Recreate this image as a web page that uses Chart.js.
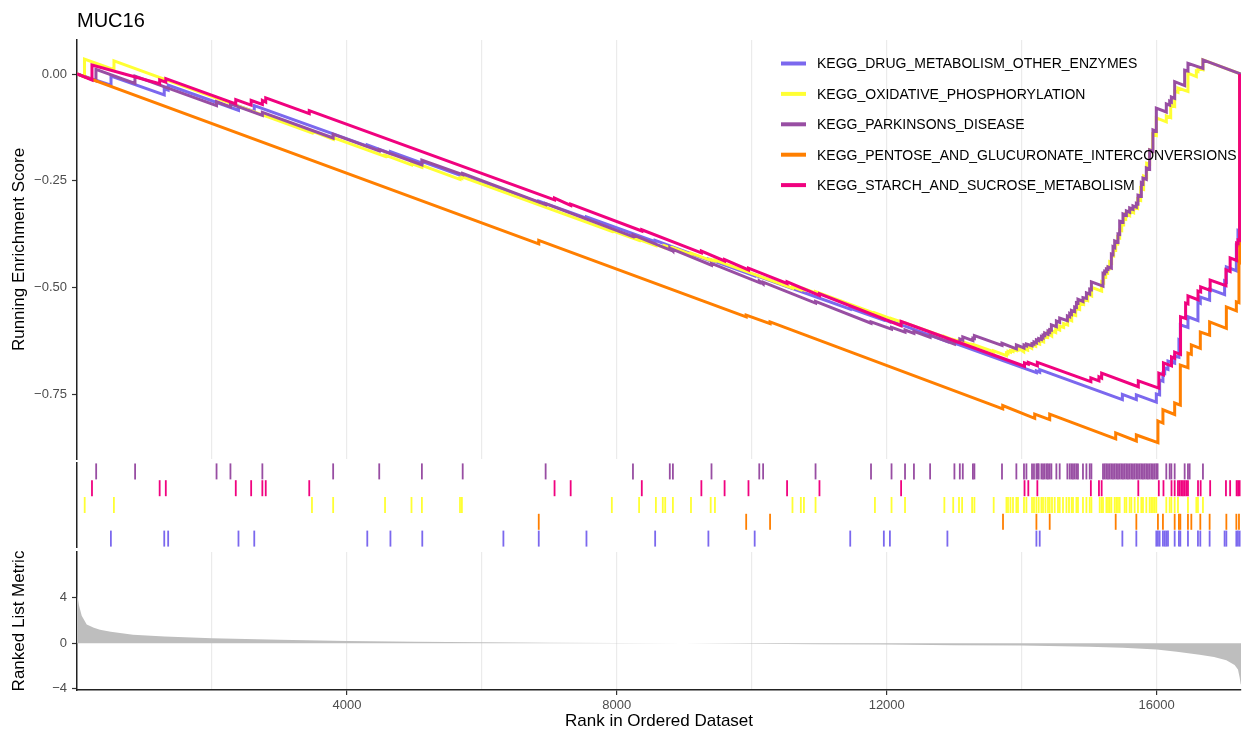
<!DOCTYPE html>
<html><head><meta charset="utf-8">
<script src="https://cdn.jsdelivr.net/npm/chart.js@4.4.1/dist/chart.umd.min.js"></script>
<style>
html,body{margin:0;padding:0;background:#fff;}
#wrap{position:relative;width:1243px;height:733px;overflow:hidden;background:#fff;}
canvas{position:absolute;left:0;}
</style></head><body>
<div id="wrap">
<canvas id="es" width="1243" height="461" style="top:0px"></canvas>
<canvas id="rug" width="1243" height="89" style="top:461px"></canvas>
<canvas id="metric" width="1243" height="183" style="top:550px"></canvas>
</div>
<script>
// ---------------- DATA ----------------
const plotTitle = "MUC16";
const setNames = ["KEGG_DRUG_METABOLISM_OTHER_ENZYMES","KEGG_OXIDATIVE_PHOSPHORYLATION","KEGG_PARKINSONS_DISEASE","KEGG_PENTOSE_AND_GLUCURONATE_INTERCONVERSIONS","KEGG_STARCH_AND_SUCROSE_METABOLISM"];
const setColors = ["#7B68EE","#FFFF33","#984EA3","#FF7F00","#F0027F"];
const esTicks = [0, -0.25, -0.5, -0.75];
const metricTicks = [-4, 0, 4];
const xGrid = [2000,4000,6000,8000,10000,12000,14000,16000];
const xLabelTicks = [4000,8000,12000,16000];
const nRank = 17250;

// running enrichment score curves: [rank, ES]
const drugCurve = [[0,0],[504,-0.026],[504,-0.005],[1293,-0.049],[1293,-0.035],[1351,-0.038],[1351,-0.026],[2393,-0.085],[2393,-0.075],[2627,-0.088],[2627,-0.074],[4302,-0.169],[4302,-0.166],[4645,-0.186],[4645,-0.182],[5117,-0.209],[5117,-0.205],[6319,-0.274],[6319,-0.271],[6843,-0.301],[6843,-0.298],[7550,-0.338],[7550,-0.335],[8568,-0.393],[8568,-0.390],[9357,-0.436],[9357,-0.434],[10043,-0.473],[10043,-0.471],[11459,-0.551],[11459,-0.549],[11957,-0.577],[11957,-0.575],[12047,-0.581],[12047,-0.578],[12899,-0.627],[12899,-0.625],[14218,-0.700],[14218,-0.696],[14267,-0.699],[14267,-0.693],[15492,-0.763],[15492,-0.751],[15699,-0.763],[15699,-0.752],[15995,-0.769],[15995,-0.750],[16044,-0.752],[16044,-0.717],[16093,-0.720],[16093,-0.701],[16119,-0.702],[16119,-0.689],[16168,-0.692],[16168,-0.673],[16267,-0.678],[16267,-0.661],[16330,-0.664],[16330,-0.623],[16351,-0.625],[16351,-0.588],[16464,-0.594],[16464,-0.569],[16612,-0.578],[16612,-0.534],[16647,-0.537],[16647,-0.523],[16785,-0.530],[16785,-0.504],[17007,-0.517],[17007,-0.485],[17033,-0.487],[17033,-0.452],[17181,-0.461],[17181,-0.401],[17205,-0.402],[17205,-0.366],[17230,-0.367],[17230,0]];

const oxphosCurve = [[0,0],[111,-0.007],[111,0.035],[548,0.010],[548,0.031],[3482,-0.138],[3482,-0.134],[3796,-0.153],[3796,-0.149],[4565,-0.193],[4565,-0.190],[4957,-0.213],[4957,-0.210],[5111,-0.219],[5111,-0.214],[5676,-0.247],[5676,-0.244],[5704,-0.245],[5704,-0.241],[7926,-0.369],[7926,-0.367],[8330,-0.390],[8330,-0.388],[8579,-0.402],[8579,-0.400],[8699,-0.407],[8699,-0.402],[8831,-0.409],[8831,-0.407],[9099,-0.423],[9099,-0.420],[9391,-0.437],[9391,-0.435],[9454,-0.438],[9454,-0.436],[10603,-0.502],[10603,-0.499],[10727,-0.506],[10727,-0.503],[10773,-0.506],[10773,-0.503],[10945,-0.513],[10945,-0.510],[11825,-0.561],[11825,-0.560],[12071,-0.574],[12071,-0.573],[12271,-0.584],[12271,-0.583],[12854,-0.616],[12854,-0.615],[12985,-0.623],[12985,-0.622],[13071,-0.626],[13071,-0.625],[13117,-0.628],[13117,-0.627],[13265,-0.635],[13265,-0.634],[13299,-0.636],[13299,-0.635],[13585,-0.651],[13585,-0.649],[13774,-0.660],[13774,-0.654],[13797,-0.655],[13797,-0.650],[13833,-0.652],[13833,-0.648],[13871,-0.650],[13871,-0.646],[13921,-0.648],[13921,-0.644],[13945,-0.646],[13945,-0.642],[14030,-0.651],[14030,-0.644],[14089,-0.647],[14089,-0.638],[14148,-0.643],[14148,-0.634],[14208,-0.638],[14208,-0.630],[14267,-0.633],[14267,-0.625],[14326,-0.628],[14326,-0.617],[14385,-0.618],[14385,-0.608],[14445,-0.614],[14445,-0.602],[14504,-0.606],[14504,-0.596],[14563,-0.600],[14563,-0.591],[14622,-0.594],[14622,-0.585],[14681,-0.588],[14681,-0.574],[14741,-0.578],[14741,-0.563],[14800,-0.566],[14800,-0.549],[14859,-0.552],[14859,-0.537],[14918,-0.540],[14918,-0.527],[14978,-0.531],[14978,-0.516],[15037,-0.520],[15037,-0.500],[15185,-0.509],[15185,-0.487],[15215,-0.489],[15215,-0.473],[15245,-0.475],[15245,-0.464],[15274,-0.466],[15274,-0.455],[15304,-0.456],[15304,-0.440],[15333,-0.442],[15333,-0.424],[15363,-0.426],[15363,-0.410],[15393,-0.412],[15393,-0.396],[15422,-0.398],[15422,-0.382],[15452,-0.384],[15452,-0.366],[15482,-0.367],[15482,-0.352],[15511,-0.353],[15511,-0.340],[15541,-0.341],[15541,-0.328],[15600,-0.332],[15600,-0.321],[15659,-0.325],[15659,-0.312],[15718,-0.315],[15718,-0.293],[15763,-0.296],[15763,-0.267],[15807,-0.270],[15807,-0.239],[15852,-0.242],[15852,-0.209],[15896,-0.211],[15896,-0.178],[15941,-0.181],[15941,-0.141],[15995,-0.144],[15995,-0.103],[16143,-0.112],[16143,-0.098],[16208,-0.102],[16208,-0.073],[16267,-0.076],[16267,-0.040],[16316,-0.043],[16316,-0.033],[16464,-0.041],[16464,0.002],[16588,-0.006],[16588,0.007],[16612,0.006],[16612,0.014],[16686,0.010],[16686,0.033],[17250,0]];

const parkCurve = [[0,0],[281,-0.016],[281,0.011],[859,-0.022],[859,-0.005],[2068,-0.074],[2068,-0.065],[2274,-0.077],[2274,-0.070],[2747,-0.097],[2747,-0.090],[3796,-0.150],[3796,-0.141],[4479,-0.180],[4479,-0.177],[5111,-0.213],[5111,-0.202],[5716,-0.236],[5716,-0.233],[6945,-0.306],[6945,-0.304],[8239,-0.381],[8239,-0.377],[8785,-0.412],[8785,-0.408],[8831,-0.415],[8831,-0.411],[9403,-0.448],[9403,-0.444],[10111,-0.489],[10111,-0.485],[10168,-0.492],[10168,-0.488],[10945,-0.537],[10945,-0.533],[11767,-0.584],[11767,-0.581],[12071,-0.598],[12071,-0.594],[12271,-0.605],[12271,-0.600],[12403,-0.608],[12403,-0.603],[12643,-0.617],[12643,-0.612],[13003,-0.633],[13003,-0.626],[13083,-0.630],[13083,-0.621],[13127,-0.624],[13127,-0.616],[13277,-0.625],[13277,-0.619],[13299,-0.620],[13299,-0.613],[13708,-0.636],[13708,-0.631],[13921,-0.644],[13921,-0.635],[14034,-0.642],[14034,-0.635],[14070,-0.637],[14070,-0.633],[14153,-0.637],[14153,-0.632],[14182,-0.633],[14182,-0.628],[14218,-0.630],[14218,-0.623],[14252,-0.625],[14252,-0.620],[14292,-0.622],[14292,-0.616],[14316,-0.618],[14316,-0.612],[14341,-0.613],[14341,-0.607],[14390,-0.610],[14390,-0.603],[14415,-0.605],[14415,-0.599],[14440,-0.600],[14440,-0.588],[14514,-0.592],[14514,-0.579],[14563,-0.582],[14563,-0.572],[14677,-0.578],[14677,-0.567],[14711,-0.569],[14711,-0.561],[14737,-0.563],[14737,-0.554],[14785,-0.557],[14785,-0.546],[14811,-0.547],[14811,-0.536],[14834,-0.537],[14834,-0.528],[14908,-0.533],[14908,-0.524],[14959,-0.526],[14959,-0.513],[15008,-0.516],[15008,-0.504],[15033,-0.505],[15033,-0.487],[15205,-0.497],[15205,-0.467],[15230,-0.468],[15230,-0.462],[15255,-0.463],[15255,-0.457],[15279,-0.458],[15279,-0.452],[15329,-0.455],[15329,-0.422],[15353,-0.423],[15353,-0.405],[15378,-0.407],[15378,-0.391],[15427,-0.394],[15427,-0.375],[15452,-0.376],[15452,-0.345],[15501,-0.347],[15501,-0.328],[15551,-0.331],[15551,-0.321],[15600,-0.324],[15600,-0.314],[15649,-0.317],[15649,-0.309],[15699,-0.312],[15699,-0.303],[15723,-0.304],[15723,-0.284],[15773,-0.286],[15773,-0.255],[15797,-0.257],[15797,-0.244],[15847,-0.247],[15847,-0.220],[15896,-0.223],[15896,-0.178],[15945,-0.181],[15945,-0.131],[15995,-0.134],[15995,-0.080],[16143,-0.089],[16143,-0.070],[16193,-0.073],[16193,-0.064],[16218,-0.066],[16218,-0.054],[16267,-0.057],[16267,-0.018],[16415,-0.027],[16415,0.009],[16464,0.007],[16464,0.025],[16686,0.013],[16686,0.033],[17250,0]];

const pentoseCurve = [[0,0],[6843,-0.398],[6843,-0.390],[9917,-0.569],[9917,-0.565],[10271,-0.585],[10271,-0.581],[13719,-0.785],[13719,-0.777],[14193,-0.807],[14193,-0.797],[14415,-0.810],[14415,-0.797],[15393,-0.855],[15393,-0.841],[15699,-0.860],[15699,-0.846],[16019,-0.864],[16019,-0.813],[16093,-0.818],[16093,-0.787],[16267,-0.798],[16267,-0.771],[16351,-0.776],[16351,-0.682],[16464,-0.688],[16464,-0.654],[16514,-0.657],[16514,-0.635],[16647,-0.643],[16647,-0.605],[16785,-0.612],[16785,-0.581],[17033,-0.596],[17033,-0.546],[17181,-0.555],[17181,-0.534],[17220,-0.536],[17220,-0.440],[17230,-0.441],[17230,0]];

const starchCurve = [[0,0],[222,-0.014],[222,0.021],[1225,-0.023],[1225,-0.014],[1316,-0.019],[1316,-0.011],[2353,-0.070],[2353,-0.060],[2581,-0.073],[2581,-0.062],[2747,-0.071],[2747,-0.062],[2797,-0.066],[2797,-0.056],[3442,-0.093],[3442,-0.086],[7077,-0.295],[7077,-0.291],[7316,-0.308],[7316,-0.305],[8370,-0.368],[8370,-0.365],[9253,-0.419],[9253,-0.415],[9597,-0.438],[9597,-0.435],[9951,-0.459],[9951,-0.455],[10523,-0.491],[10523,-0.487],[11003,-0.519],[11003,-0.515],[12213,-0.590],[12213,-0.580],[14042,-0.685],[14042,-0.677],[14098,-0.680],[14098,-0.676],[14232,-0.684],[14232,-0.676],[15025,-0.721],[15025,-0.712],[15145,-0.719],[15145,-0.710],[15185,-0.713],[15185,-0.701],[15728,-0.733],[15728,-0.719],[16032,-0.736],[16032,-0.701],[16101,-0.705],[16101,-0.677],[16220,-0.684],[16220,-0.663],[16267,-0.666],[16267,-0.652],[16354,-0.657],[16354,-0.569],[16429,-0.573],[16429,-0.537],[16464,-0.539],[16464,-0.520],[16613,-0.529],[16613,-0.509],[16652,-0.511],[16652,-0.499],[16793,-0.507],[16793,-0.483],[17027,-0.496],[17027,-0.459],[17089,-0.463],[17089,-0.431],[17185,-0.437],[17185,-0.396],[17207,-0.397],[17207,-0.389],[17230,-0.390],[17230,0]];

// hit positions (ranks) per gene set
const drugHits = [502,1293,1351,2393,2627,4302,4645,5117,6319,6843,7550,8568,9357,10043,11459,11957,12047,12899,14218,14267,15492,15699,15995,16019,16044,16093,16119,16143,16168,16267,16330,16351,16464,16612,16647,16785,17007,17033,17181,17205,17230];
const oxphosHits = [114,547,3482,3796,4565,4957,5111,5676,5704,7926,8330,8579,8681,8717,8831,9099,9391,9454,10603,10727,10773,10945,11825,12071,12271,12854,12985,13071,13117,13265,13299,13585,13774,13797,13833,13871,13921,13945,14034,14070,14153,14182,14218,14252,14292,14316,14352,14390,14415,14449,14489,14538,14563,14612,14663,14701,14741,14760,14811,14834,14908,14959,15008,15033,15156,15185,15205,15255,15279,15304,15329,15378,15403,15427,15452,15526,15551,15600,15625,15674,15723,15773,15797,15847,15896,15921,15945,15970,15995,16143,16193,16218,16267,16316,16464,16588,16612,16686];
const parkHits = [284,861,2068,2274,2747,3796,4479,5111,5716,6945,8239,8785,8831,9403,10111,10168,10945,11767,12071,12271,12403,12643,13003,13083,13127,13277,13299,13708,13921,14034,14070,14153,14182,14218,14237,14252,14292,14316,14341,14370,14390,14415,14440,14514,14563,14677,14711,14737,14760,14785,14811,14834,14908,14959,15008,15033,15205,15230,15255,15279,15304,15329,15353,15378,15403,15427,15452,15477,15501,15526,15551,15575,15600,15625,15649,15674,15699,15723,15748,15773,15797,15822,15847,15871,15896,15921,15945,15970,15995,16014,16143,16193,16218,16267,16415,16464,16489,16686];
const pentoseHits = [6843,9917,10271,13723,14218,14415,15393,15699,16019,16093,16267,16330,16351,16464,16514,16647,16785,17033,17181,17220];
const starchHits = [222,1225,1316,2353,2581,2747,2797,3442,7077,7316,8370,9253,9597,9951,10523,11003,12213,14042,14098,14232,15025,15145,15185,15728,16032,16101,16220,16267,16316,16341,16366,16390,16415,16440,16464,16613,16652,16793,17027,17089,17185,17207,17230];

// ranked list metric
const metricRank  = [1,30,70,144,250,341,500,830,1300,2000,3000,4000,5000,6000,7000,8000,9000,10000,11000,12000,13000,14000,15000,15500,16000,16300,16637,16850,17033,17155,17205,17230,17245,17250];
const metricValue = [4.4,3.3,2.4,1.65,1.35,1.18,1.0,0.75,0.58,0.44,0.30,0.20,0.14,0.09,0.05,0.02,-0.01,-0.04,-0.08,-0.12,-0.17,-0.20,-0.30,-0.40,-0.55,-0.75,-1.0,-1.2,-1.5,-1.9,-2.3,-3.0,-3.6,-3.6];

// ---------------- DRAWING ----------------
const curves = [drugCurve, oxphosCurve, parkCurve, pentoseCurve, starchCurve];
const hits = [drugHits, oxphosHits, parkHits, pentoseHits, starchHits];
const rugRow = [4, 2, 0, 3, 1]; // purple top, pink, yellow, orange, blue bottom

const FAM = '"Liberation Sans", Arial, Helvetica, sans-serif';
Chart.defaults.font.family = FAM;
Chart.defaults.color = '#4d4d4d';

const fmtES = v => (v < 0 ? '\u2212' : '') + Math.abs(v).toFixed(2);
const fmtInt = v => (v < 0 ? '\u2212' : '') + Math.abs(v);
const noPad = s => { s.paddingTop = 0; s.paddingBottom = 0; s.paddingLeft = 0; s.paddingRight = 0; };

const titlePlugin = {
  id: 'plotTitle',
  afterDraw(chart) {
    const ctx = chart.ctx;
    ctx.save();
    ctx.font = '20px ' + FAM;
    ctx.fillStyle = '#000';
    ctx.textAlign = 'left';
    ctx.textBaseline = 'alphabetic';
    ctx.fillText(plotTitle, chart.chartArea.left, 27);
    ctx.restore();
  }
};
const legendPlugin = {
  id: 'inLegend',
  afterDatasetsDraw(chart) {
    const ctx = chart.ctx;
    ctx.save();
    ctx.font = '14px ' + FAM;
    ctx.textAlign = 'left';
    ctx.textBaseline = 'middle';
    setNames.forEach((n, i) => {
      const y = 63.5 + i * 30.4;
      ctx.strokeStyle = setColors[i];
      ctx.lineWidth = 4;
      ctx.beginPath(); ctx.moveTo(781, y); ctx.lineTo(806, y); ctx.stroke();
      ctx.fillStyle = '#000';
      ctx.fillText(n, 817, y + 1);
    });
    ctx.restore();
  }
};

const xBase = {
  type: 'linear', min: 0, max: nRank,
  afterBuildTicks: s => { s.ticks = xGrid.map(v => ({value: v})); }
};

new Chart(document.getElementById('es'), {
  type: 'line',
  data: {
    datasets: curves.map((c, i) => ({
      label: setNames[i],
      data: c.map(p => ({x: p[0], y: p[1]})),
      borderColor: setColors[i], backgroundColor: setColors[i],
      borderWidth: 3, pointRadius: 0, pointHoverRadius: 0, tension: 0, fill: false,
      order: 5 - i
    }))
  },
  options: {
    responsive: false, animation: false, devicePixelRatio: 1,
    events: [],
    layout: {autoPadding: false, padding: {top: 40, right: 2, bottom: 2, left: 0}},
    plugins: {legend: {display: false}, tooltip: {enabled: false}},
    scales: {
      x: Object.assign({}, xBase, {
        ticks: {display: false},
        grid: {color: '#ebebeb', lineWidth: 1.2, drawTicks: false},
        border: {display: false},
        afterFit: s => { s.height = 0; noPad(s); }
      }),
      y: {
        min: -0.9023, max: 0.0797,
        afterBuildTicks: s => { s.ticks = esTicks.map(v => ({value: v})); },
        ticks: {callback: v => fmtES(v), color: '#4d4d4d', font: {size: 13}, padding: 5},
        grid: {drawOnChartArea: false, drawTicks: true, tickLength: 5, tickColor: '#333', tickWidth: 1.2},
        border: {display: true, color: '#222', width: 1.5},
        title: {display: true, text: 'Running Enrichment Score', color: '#000', font: {size: 17}, padding: {top: 9, bottom: 0}},
        afterFit: s => { s.width = 77; noPad(s); }
      }
    }
  },
  plugins: [titlePlugin, legendPlugin]
});

new Chart(document.getElementById('rug'), {
  type: 'scatter',
  data: {
    datasets: hits.map((h, i) => ({
      label: setNames[i],
      data: h.map(r => ({x: r, y: rugRow[i]})),
      pointStyle: 'line', pointRotation: 90, pointRadius: 8, pointHoverRadius: 8,
      pointBorderColor: setColors[i], pointBackgroundColor: setColors[i], pointBorderWidth: 1.8,
      showLine: false, clip: 10
    }))
  },
  options: {
    responsive: false, animation: false, devicePixelRatio: 1,
    events: [],
    layout: {autoPadding: false, padding: {top: 2, right: 2, bottom: 3, left: 0}},
    plugins: {legend: {display: false}, tooltip: {enabled: false}},
    scales: {
      x: Object.assign({}, xBase, {display: false, afterFit: s => { noPad(s); }}),
      y: {
        min: -0.5, max: 4.5, reverse: true,
        ticks: {display: false},
        grid: {display: false},
        border: {display: true, color: '#222', width: 1.5},
        afterFit: s => { s.width = 77; noPad(s); }
      }
    }
  }
});

new Chart(document.getElementById('metric'), {
  type: 'line',
  data: {
    datasets: [{
      label: 'metric',
      data: metricRank.map((r, i) => ({x: r, y: metricValue[i]})),
      borderColor: 'rgba(0,0,0,0)', borderWidth: 0, backgroundColor: '#bebebe',
      fill: 'origin', pointRadius: 0, pointHoverRadius: 0, tension: 0
    }]
  },
  options: {
    responsive: false, animation: false, devicePixelRatio: 1,
    events: [],
    layout: {autoPadding: false, padding: {top: 2, right: 2, bottom: 0, left: 0}},
    plugins: {legend: {display: false}, tooltip: {enabled: false}},
    scales: {
      x: Object.assign({}, xBase, {
        ticks: {
          callback: v => (xLabelTicks.includes(v) ? String(v) : ''),
          color: '#4d4d4d', font: {size: 13}, padding: 3, maxRotation: 0, autoSkip: false
        },
        grid: {
          color: '#ebebeb', lineWidth: 1.2, drawTicks: true, tickLength: 5, tickWidth: 1.2,
          tickColor: c => (c.tick && xLabelTicks.includes(c.tick.value)) ? '#333' : 'rgba(0,0,0,0)'
        },
        border: {display: true, color: '#222', width: 1.5},
        title: {display: true, text: 'Rank in Ordered Dataset', color: '#000', font: {size: 17}, padding: {top: 0, bottom: 1}},
        afterFit: s => { s.height = 43; noPad(s); }
      }),
      y: {
        min: -4.1, max: 8.0,
        afterBuildTicks: s => { s.ticks = metricTicks.map(v => ({value: v})); },
        ticks: {callback: v => fmtInt(v), color: '#4d4d4d', font: {size: 13}, padding: 5},
        grid: {drawOnChartArea: false, drawTicks: true, tickLength: 5, tickColor: '#333', tickWidth: 1.2},
        border: {display: true, color: '#222', width: 1.5},
        title: {display: true, text: 'Ranked List Metric', color: '#000', font: {size: 17}, padding: {top: 9, bottom: 0}},
        afterFit: s => { s.width = 77; noPad(s); }
      }
    }
  }
});
</script>
</body></html>
